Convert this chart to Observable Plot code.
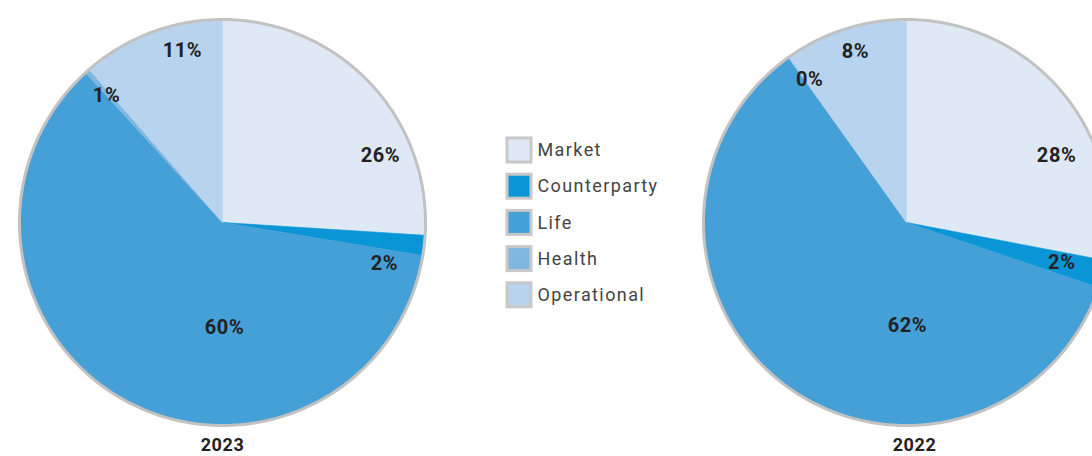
<!DOCTYPE html>
<html>
<head>
<meta charset="utf-8">
<script src="https://cdn.jsdelivr.net/npm/d3@7"></script>
<script src="https://cdn.jsdelivr.net/npm/@observablehq/plot@0.6"></script>
<style>
  html, body { margin: 0; padding: 0; background: #fff; overflow: hidden; }
  .legend-text text { letter-spacing: 1.4px; }
  .pct text { letter-spacing: 0.6px; }
</style>
</head>
<body>
<div id="chart"></div>
<script>
// ---- data ----
const categories = ["Market", "Counterparty", "Life", "Health", "Operational"];
const colors = ["#dfe9f5", "#0a96d6", "#45a0d8", "#80b7e1", "#b8d3ed"];
const years = ["2023", "2022"];
// slice sizes as drawn (share of the circle, %)
const values2023 = [26, 1.6, 60.6, 0.4, 11.4];
const values2022 = [28, 2.2, 59.9, 0.05, 9.85];
// printed labels
const labels2023 = ["26%", "2%", "60%", "1%", "11%"];
const labels2022 = ["28%", "2%", "62%", "0%", "8%"];

// ---- layout (pixels) ----
const W = 1092, H = 456, R = 203;
const pies = [
  {year: years[0], cx: 222, cy: 222, values: values2023, labels: labels2023, yearX: 222,
   labelPolar: [[67, 0.845], [104.2, 0.823], [178.9, 0.517], [317.6, 0.847], [346.9, 0.87]]},
  {year: years[1], cx: 906, cy: 222, values: values2022, labels: labels2022, yearX: 914,
   labelPolar: [[65.9, 0.81], [104.4, 0.79], [179.5, 0.51], [325.9, 0.851], [343.4, 0.879]]}
];
const yearY = 445;
const legend = {x: 519, y0: 150, dy: 36.2, side: 24, textX: 537};

// ---- geometry from values ----
const rad = d => d * Math.PI / 180;
const slicePts = [];
const circlePts = [];
const labelRows = [];
for (const p of pies) {
  const total = d3.sum(p.values);
  let acc = 0;
  p.values.forEach((v, i) => {
    const a0 = acc / total * 360, a1 = (acc + v) / total * 360;
    acc += v;
    const key = p.year + "-" + categories[i];
    slicePts.push({key, cat: categories[i], x: p.cx, y: p.cy});
    const n = Math.max(2, Math.ceil((a1 - a0) / 0.5));
    for (let k = 0; k <= n; k++) {
      const a = rad(a0 + (a1 - a0) * k / n);
      slicePts.push({key, cat: categories[i], x: p.cx + R * Math.sin(a), y: p.cy - R * Math.cos(a)});
    }
    slicePts.push({key, cat: categories[i], x: p.cx, y: p.cy});
    const [la, lr] = p.labelPolar[i];
    labelRows.push({x: p.cx + lr * R * Math.sin(rad(la)), y: p.cy - lr * R * Math.cos(rad(la)), text: p.labels[i]});
  });
  for (let k = 0; k <= 720; k++) {
    const a = rad(k / 2);
    circlePts.push({pie: p.year, x: p.cx + R * Math.sin(a), y: p.cy - R * Math.cos(a)});
  }
}
const legendRows = categories.map((c, i) => ({
  cat: c,
  x1: legend.x - legend.side / 2, x2: legend.x + legend.side / 2,
  y1: legend.y0 + i * legend.dy - legend.side / 2, y2: legend.y0 + i * legend.dy + legend.side / 2,
  ty: legend.y0 + i * legend.dy
}));
const yearRows = pies.map(p => ({x: p.yearX, y: yearY, text: p.year}));

const chart = Plot.plot({
  width: W, height: H,
  margin: 0,
  x: {domain: [0, W], range: [0, W], axis: null},
  y: {domain: [0, H], range: [0, H], axis: null},
  color: {domain: categories, range: colors},
  style: {fontFamily: "Roboto, 'DejaVu Sans', sans-serif", background: "#fff"},
  marks: [
    Plot.line(slicePts, {x: "x", y: "y", z: "key", fill: "cat", stroke: "cat", strokeWidth: 0.6, curve: "linear"}),
    Plot.line(circlePts, {x: "x", y: "y", z: "pie", stroke: "#c2c2c2", strokeWidth: 3, fill: "none"}),
    Plot.text(labelRows, {x: "x", y: "y", text: "text", fontSize: 20, fontWeight: "bold", fill: "#222", className: "pct"}),
    Plot.text(yearRows, {x: "x", y: "y", text: "text", fontSize: 18, fontWeight: "bold", fill: "#222", className: "pct"}),
    Plot.rect(legendRows, {x1: "x1", x2: "x2", y1: "y1", y2: "y2", fill: "cat", stroke: "#c8c8c8", strokeWidth: 3}),
    Plot.text(legendRows, {x: legend.textX, y: "ty", text: "cat", textAnchor: "start", fontSize: 18, fill: "#444", className: "legend-text"})
  ]
});
document.getElementById("chart").appendChild(chart);
</script>
</body>
</html>
